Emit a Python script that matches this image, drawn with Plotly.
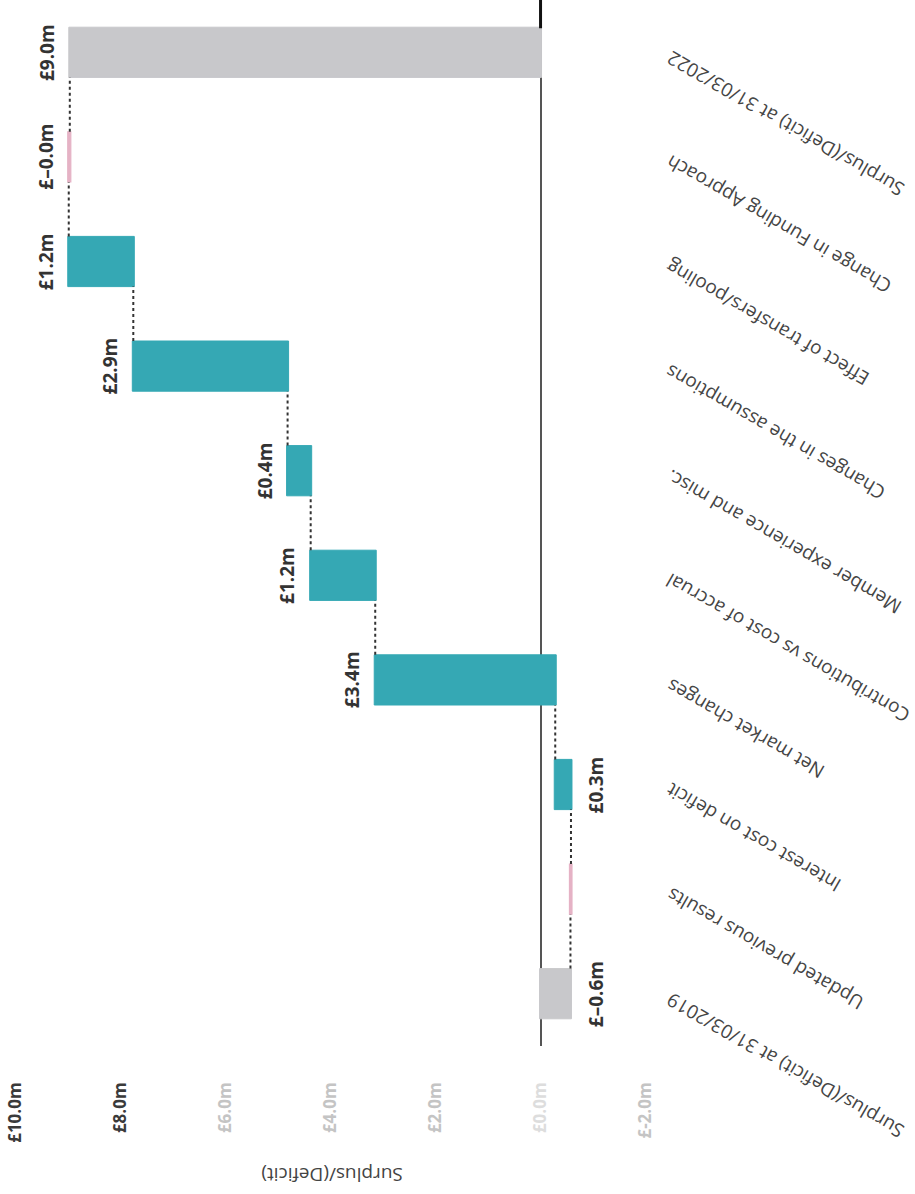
import plotly.graph_objects as go

categories = [
    "Surplus/(Deficit) at 31/03/2019",
    "Updated previous results",
    "Interest cost on deficit",
    "Net market changes",
    "Contributions vs cost of accrual",
    "Member experience and misc.",
    "Changes in the assumptions",
    "Effect of transfers/pooling",
    "Change in Funding Approach",
    "Surplus/(Deficit) at 31/03/2022",
]
measures = ["absolute", "relative", "relative", "relative", "relative",
            "relative", "relative", "relative", "relative", "total"]
values = [-0.57, -0.01, 0.30, 3.43, 1.23, 0.44, 2.94, 1.23, -0.02, 0]
show_label = [True, False, True, True, True, True, True, True, True, True]

tick_vals = [10, 8, 6, 4, 2, 0, -2]
tick_labels = ["£10.0m", "£8.0m", "£6.0m", "£4.0m", "£2.0m", "£0.0m", "£-2.0m"]
tick_colors = ["#3a3a3a", "#3a3a3a", "#c4c4c4", "#c4c4c4", "#c4c4c4", "#dddddd", "#c4c4c4"]

TEAL = "#35a8b4"
PINK = "#e5b2c5"
GREY = "#c8c8cb"
FONT = "Open Sans"

fig = go.Figure()
fig.add_trace(go.Waterfall(
    orientation="h",
    y=categories,
    x=values,
    measure=measures,
    textinfo="none",
    increasing=dict(marker=dict(color=TEAL, line=dict(color=TEAL, width=1))),
    decreasing=dict(marker=dict(color=PINK, line=dict(color=PINK, width=1.2))),
    totals=dict(marker=dict(color=GREY, line=dict(color=GREY, width=1))),
    connector=dict(mode="between", line=dict(color="#333333", width=2, dash="dot")),
    hoverinfo="skip",
))

annotations = []
running = 0.0
for cat, m, v, show in zip(categories, measures, values, show_label):
    if m == "absolute":
        start, end = 0.0, v
    elif m == "relative":
        start, end = running, running + v
    else:
        start, end = 0.0, running
    running = end
    disp = end if m == "total" else v
    txt = ("£%.1fm" % disp).replace("-", "–")
    if show:
        if end >= 0:
            annotations.append(dict(x=max(start, end), y=cat, xref="x", yref="y",
                                    text="<b>%s</b>" % txt, showarrow=False, textangle=-90,
                                    xanchor="right", yanchor="middle", xshift=-8,
                                    font=dict(size=19, color="#333333", family=FONT)))
        else:
            annotations.append(dict(x=min(start, end), y=cat, xref="x", yref="y",
                                    text="<b>%s</b>" % txt, showarrow=False, textangle=-90,
                                    xanchor="left", yanchor="middle", xshift=10,
                                    font=dict(size=19, color="#333333", family=FONT)))
    annotations.append(dict(x=1, y=cat, xref="paper", yref="y",
                            text=cat, showarrow=False, textangle=-150,
                            xanchor="left", yanchor="top", xshift=3, yshift=10,
                            font=dict(size=19, color="#454545", family=FONT)))

annotations.append(dict(x=0.506, y=-0.124, xref="paper", yref="paper",
                        text="Surplus/(Deficit)", showarrow=False, textangle=180,
                        xanchor="center", yanchor="middle",
                        font=dict(size=19, color="#444444", family=FONT)))

ticktext = ["<span style='color:%s'><b>%s</b></span>" % (c, t) for t, c in zip(tick_labels, tick_colors)]

fig.update_layout(
    width=915, height=1194,
    margin=dict(l=0, r=259, t=0, b=148, autoexpand=False),
    paper_bgcolor="white", plot_bgcolor="white",
    showlegend=False,
    waterfallgap=0.52,
    font=dict(family=FONT, color="#444444"),
    annotations=annotations,
    shapes=[dict(type="line", xref="x", yref="paper", x0=0, x1=0, y0=0.973, y1=1,
                 line=dict(color="#111111", width=3))],
    xaxis=dict(
        range=[10.3, -2.2],
        tickmode="array", tickvals=tick_vals, ticktext=ticktext,
        tickangle=-90,
        showgrid=False,
        zeroline=True, zerolinecolor="#555555", zerolinewidth=1.5,
        showline=False, ticks="",
        ticklabelstandoff=32,
        automargin=False,
        tickfont=dict(size=17, family=FONT),
    ),
    yaxis=dict(
        type="category",
        categoryorder="array", categoryarray=categories,
        range=[-0.5, len(categories) - 0.5],
        autorange=False,
        showticklabels=False,
        showgrid=False, zeroline=False, showline=False, ticks="",
        automargin=False,
    ),
)

fig.write_html("out.html")
